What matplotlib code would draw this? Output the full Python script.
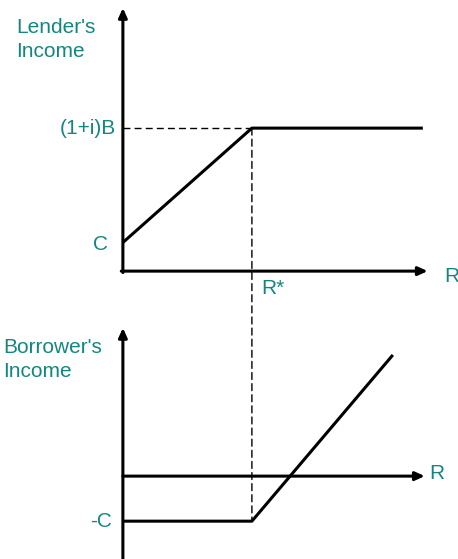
import matplotlib.pyplot as plt
from matplotlib.patches import ConnectionPatch

plt.rcParams['font.family'] = ['Liberation Sans', 'DejaVu Sans']

# conceptual data (R in arbitrary units, R* = 4)
R_star = 4.0
C = 1.0
B1 = 5.0            # (1+i)B
R_max = 9.3

lender_R = [0.0, R_star, R_max]
lender_y = [C, B1, B1]

borrower_R = [0.0, R_star, 8.37]
borrower_y = [-C, -C, 2.69]

teal = '#13877f'
fs = 15

fig = plt.figure(figsize=(4.58, 5.59), dpi=100)
ax1 = fig.add_axes([0, 259/559, 1, 300/559])
ax2 = fig.add_axes([0, 0, 1, 259/559])
for ax in (ax1, ax2):
    ax.set_axis_off()
    ax.set_xlim(-3.81, 10.39)
ax1.set_ylim(-1.01, 9.48)
ax2.set_ylim(-1.84, 3.91)

arrow = dict(arrowstyle='-|>,head_length=0.55,head_width=0.25', color='black',
             lw=2.2, shrinkA=0, shrinkB=0)
dash = (0, (5, 3))

# top panel: lender
ax1.annotate('', xy=(0, 9.2), xytext=(0, -0.05), arrowprops=arrow)
ax1.annotate('', xy=(9.45, 0), xytext=(-0.05, 0), arrowprops=arrow)
ax1.plot(lender_R, lender_y, color='black', lw=2.2, solid_capstyle='butt')
ax1.plot([0, R_star], [B1, B1], color='black', lw=1.0, ls=dash)
ax1.text(-0.2, B1, '(1+i)B', color=teal, fontsize=fs, ha='right', va='center')
ax1.text(-0.45, C - 0.08, 'C', color=teal, fontsize=fs, ha='right', va='center')
ax1.text(R_star + 0.3, -0.6, 'R*', color=teal, fontsize=fs, ha='left', va='center')
ax1.text(9.95, -0.2, 'R', color=teal, fontsize=fs, ha='left', va='center')
ax1.text(-3.3, 8.1, "Lender's\nIncome", color=teal, fontsize=fs, ha='left',
         va='center', linespacing=1.38)

# bottom panel: borrower
ax2.annotate('', xy=(0, 3.29), xytext=(0, -1.9), arrowprops=arrow)
ax2.annotate('', xy=(9.36, 0), xytext=(0, 0), arrowprops=arrow)
ax2.plot(borrower_R, borrower_y, color='black', lw=2.2, solid_capstyle='butt')
ax2.text(-0.35, -C, '-C', color=teal, fontsize=fs, ha='right', va='center')
ax2.text(9.5, 0.05, 'R', color=teal, fontsize=fs, ha='left', va='center')
ax2.text(-3.7, 2.59, "Borrower's\nIncome", color=teal, fontsize=fs, ha='left',
         va='center', linespacing=1.38)

# dashed R* line joining the two panels
con = ConnectionPatch(xyA=(R_star, B1), coordsA=ax1.transData,
                      xyB=(R_star, -C), coordsB=ax2.transData,
                      color='black', lw=1.0, ls=dash)
fig.add_artist(con)

fig.savefig('out.png', dpi=100)
